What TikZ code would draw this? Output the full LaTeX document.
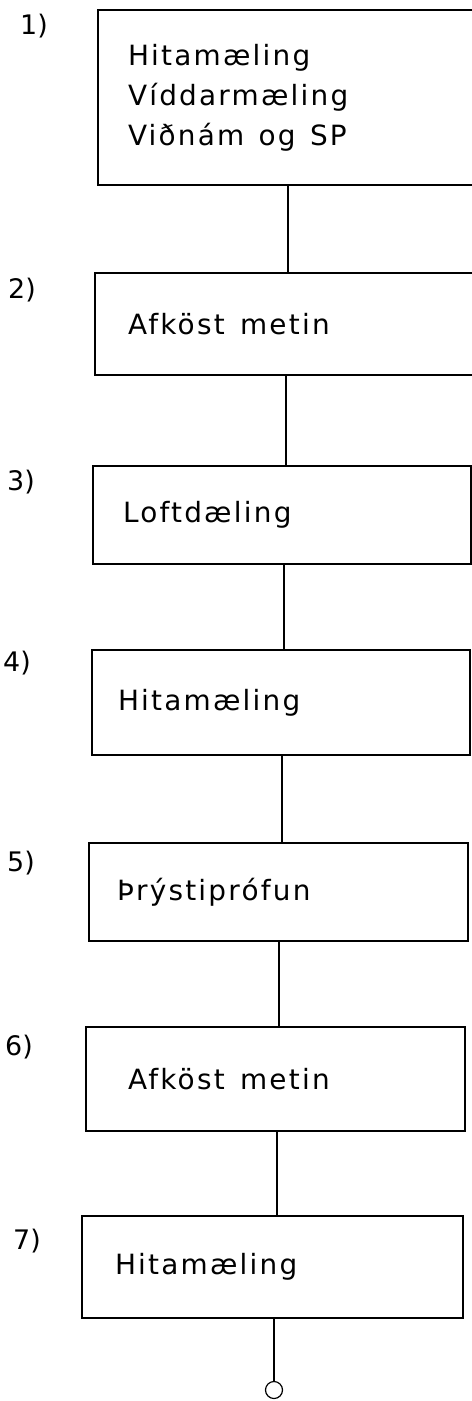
\documentclass[tikz,border=0pt]{standalone}
\usepackage{fontspec}
\setmainfont{DejaVu Sans}[LetterSpace=8]
\newfontfamily\numfont{DejaVu Sans}
\begin{document}
\begin{tikzpicture}[x=1bp,y=-1bp,
  box/.style={draw, rectangle, line width=1.3bp, anchor=north west, outer sep=0pt,
    align=left, font=\fontsize{28}{40}\selectfont, inner ysep=0pt},
  num/.style={anchor=west, font=\numfont\fontsize{27}{28}\selectfont, inner sep=0pt},
  link/.style={line width=1.1bp}]
\clip (0,0) rectangle (472,1401);
\fill[white] (0,0) rectangle (472,1401);
% boxes
\node[box, minimum height=175bp, inner xsep=30bp, text width=320bp] (b1) at (98,10)
  {Hitamæling\\Víddarmæling\\Viðnám\hspace{5bp} og\hspace{5bp} SP};
\node[box, minimum height=102bp, inner xsep=33bp, text width=317bp] (b2) at (95,273)
  {Afköst\hspace{6bp} metin};
\node[box, minimum height=98bp, inner xsep=30bp, text width=318bp] (b3) at (93,466)
  {Loftdæling};
\node[box, minimum height=105bp, inner xsep=26bp, text width=326bp] (b4) at (92,650)
  {Hitamæling};
\node[box, minimum height=98bp, inner xsep=28bp, text width=323bp] (b5) at (89,843)
  {Þrýstiprófun};
\node[box, minimum height=104bp, inner xsep=42bp, text width=295bp] (b6) at (86,1027)
  {Afköst\hspace{6bp} metin};
\node[box, minimum height=102bp, inner xsep=33bp, text width=315bp] (b7) at (82,1216)
  {Hitamæling};
% step numbers
\node[num] (n1) at (20,26) {1)};
\node[num] (n2) at (8,290) {2)};
\node[num] (n3) at (7,482) {3)};
\node[num] (n4) at (3,663) {4)};
\node[num] (n5) at (7,863) {5)};
\node[num] (n6) at (5,1047) {6)};
\node[num] (n7) at (13,1241) {7)};
% end circle
\node[draw, circle, line width=1.2bp, minimum size=17bp, inner sep=0pt] (end) at (274,1390) {};
% connector columns
\coordinate (c1) at (288,0);
\coordinate (c2) at (286,0);
\coordinate (c3) at (284,0);
\coordinate (c4) at (282,0);
\coordinate (c5) at (279,0);
\coordinate (c6) at (277,0);
\draw[link] (b1.south -| c1) -- (b2.north -| c1);
\draw[link] (b2.south -| c2) -- (b3.north -| c2);
\draw[link] (b3.south -| c3) -- (b4.north -| c3);
\draw[link] (b4.south -| c4) -- (b5.north -| c4);
\draw[link] (b5.south -| c5) -- (b6.north -| c5);
\draw[link] (b6.south -| c6) -- (b7.north -| c6);
\draw[link] (b7.south -| end) -- (end);
\end{tikzpicture}
\end{document}
